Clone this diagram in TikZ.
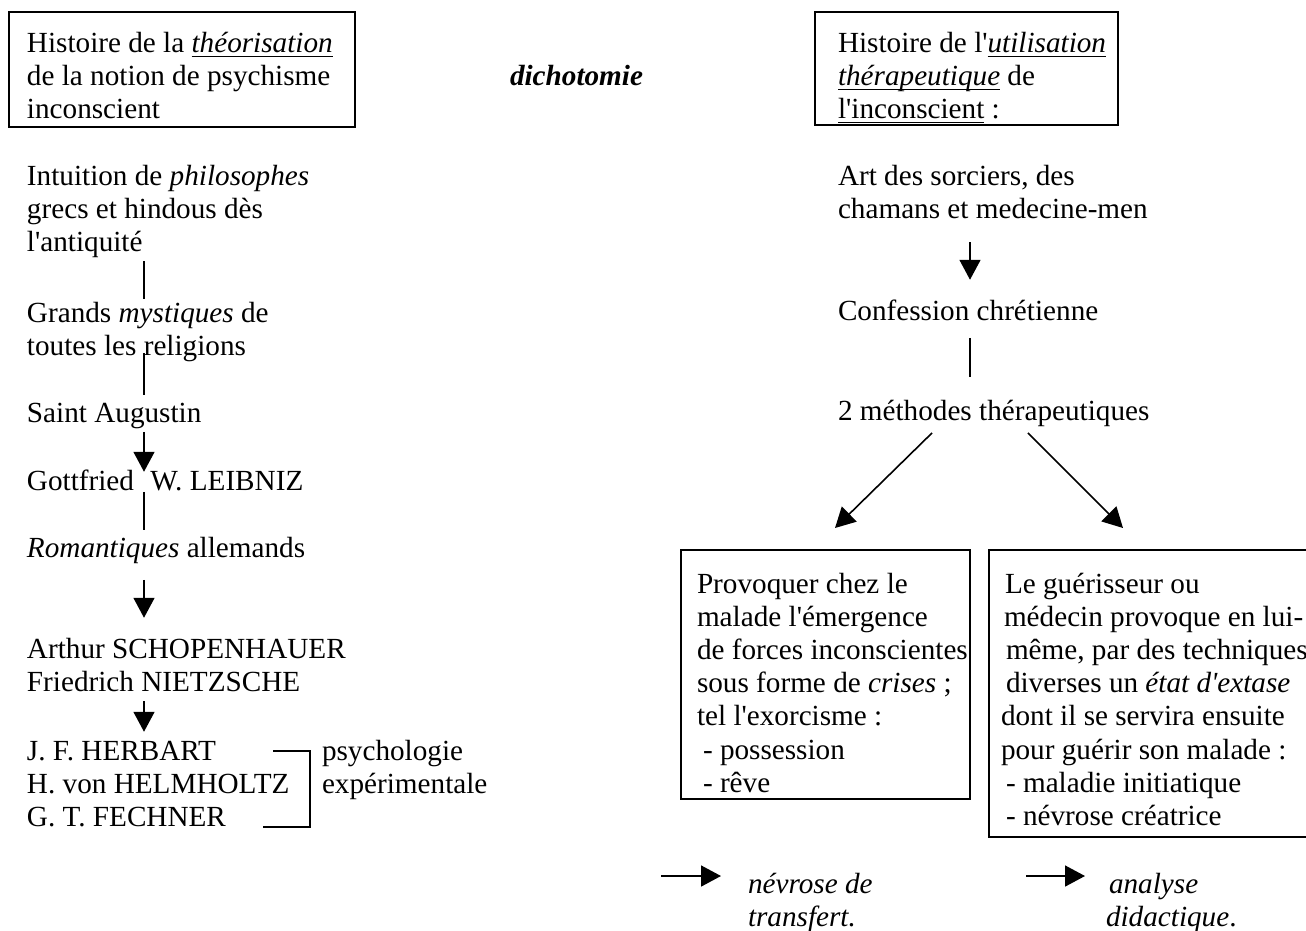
\documentclass[tikz,border=0pt]{standalone}
\usepackage{fontspec}
\setmainfont{Liberation Serif}[Ligatures=TeXOff]
\usetikzlibrary{arrows.meta,calc}
% underlined words: a rule set under the text box
\newsavebox{\ulbox}
\newcommand{\ul}[1]{\sbox{\ulbox}{#1}\leavevmode\rlap{\rule[-5pt]{\wd\ulbox}{1.5pt}}\usebox{\ulbox}}
% lines of a block; the first line's baseline is the node's base
\newcommand{\rows}[1]{\begin{tabular}[t]{@{}l@{}}#1\end{tabular}}
\tikzset{
  lbl/.style={inner sep=0pt, outer sep=0pt, anchor=base west},
  frame/.style={draw, line width=1.6pt, inner sep=0pt, outer sep=0pt, anchor=north west},
  link/.style={line width=1.6pt},
  arr/.style={link, -{Triangle[length=20pt,width=21pt]}},
}
\begin{document}
\begin{tikzpicture}[x=1pt, y=-1pt, font=\fontsize{29.2}{33.2}\selectfont]
\useasboundingbox (0,0) rectangle (1306,930);
\clip (0,0) rectangle (1306,930);

% headings
\node[frame, minimum width=346pt, minimum height=115pt] (theoBox) at (9,12) {};
\node[lbl] (theo) at (27,52) {\rows{Histoire de la \ul{\textit{théorisation}}\\de la notion de psychisme\\inconscient}};
\node[lbl] (dicho) at (510,85) {\textbf{\textit{dichotomie}}};
\node[frame, minimum width=303pt, minimum height=113pt] (utilBox) at (815,12) {};
\node[lbl] (util) at (838,52) {\rows{Histoire de l'\ul{\textit{utilisation}}\\\ul{\textit{thérapeutique}} de\\\ul{l'inconscient} :}};

% left column: theory
\coordinate (cx) at (144,0);
\node[lbl] (intu) at (27,185) {\rows{Intuition de \textit{philosophes}\\grecs et hindous dès\\l'antiquité}};
\node[lbl] (grands) at (27,322) {\rows{Grands \textit{mystiques} de\\toutes les religions}};
\node[lbl] (saint) at (27,422) {\rows{Saint Augustin}};
\node[lbl] (gott) at (27,490) {\rows{Gottfried\hspace{9pt} W. LEIBNIZ}};
\node[lbl] (rom) at (27,557) {\rows{\textit{Romantiques} allemands}};
\node[lbl] (arth) at (27,658) {\rows{Arthur SCHOPENHAUER\\Friedrich NIETZSCHE}};
\node[lbl] (herb) at (27,760) {\rows{J. F. HERBART\\H. von HELMHOLTZ\\G. T. FECHNER}};
\node[lbl] (psy) at (322,760) {\rows{psychologie\\expérimentale}};

\draw[link] (cx |- intu.south) -- (cx |- grands.north);
\draw[link, shorten <=-12pt, shorten >=4pt] (cx |- grands.south) -- (cx |- saint.north);
\draw[arr, shorten >=-5pt] (cx |- saint.south) -- (cx |- gott.north);
\draw[link, shorten <=-8pt, shorten >=4pt] (cx |- gott.south) -- (cx |- rom.north);
\draw[arr, shorten <=13pt, shorten >=17pt] (cx |- rom.south) -- (cx |- arth.north);
\draw[arr, shorten >=5pt] (cx |- arth.south) -- (cx |- herb.north);
\draw[link] (273,751) -- (310,751) -- (310,827) -- (263,827);

% right column: therapy
\coordinate (rx) at (970,0);
\node[lbl] (art) at (838,185) {\rows{Art des sorciers, des\\chamans et medecine-men}};
\node[lbl] (conf) at (838,320) {\rows{Confession chrétienne}};
\node[lbl] (meth) at (838,420) {\rows{2 méthodes thérapeutiques}};

\draw[arr, shorten <=14pt, shorten >=17pt] (rx |- art.south) -- (rx |- conf.north);
\draw[link, shorten <=8pt, shorten >=20pt] (rx |- conf.south) -- (rx |- meth.north);

\node[frame, minimum width=289pt, minimum height=249pt] (provBox) at (681,550) {};
\node[lbl] (prov) at (697,593) {\rows{Provoquer chez le\\malade l'émergence\\de forces inconscientes\\sous forme de \textit{crises} ;\\tel l'exorcisme :\\\hspace{6pt}- possession\\\hspace{6pt}- rêve}};
\node[frame, minimum width=345pt, minimum height=287pt] (guerBox) at (989,550) {};
\node[lbl] (guer) at (1001,593) {\rows{\hspace{4pt}Le guérisseur ou\\\hspace{3pt}médecin provoque en lui-\\\hspace{5pt}même, par des techniques\\\hspace{5pt}diverses un \textit{état d'extase}\\dont il se servira ensuite\\pour guérir son malade :\\\hspace{5pt}- maladie initiatique\\\hspace{5pt}- névrose créatrice}};

\draw[arr] ($(meth.south west)+(94,3)$) -- ($(provBox.north west)+(154,-22)$);
\draw[arr] ($(meth.south west)+(190,3)$) -- ($(guerBox.north west)+(134,-22)$);

% outcomes
\coordinate (n0) at (661,876);
\node[lbl] (nev) at (748,893) {\rows{\textit{névrose de}\\\textit{transfert.}}};
\draw[arr, shorten >=27pt] (n0) -- (n0 -| nev.west);
\coordinate (d0) at (1026,876);
\node[lbl] (did) at (1106,893) {\rows{\hspace{3pt}\textit{analyse}\\\textit{didactique}.}};
\draw[arr, shorten >=21pt] (d0) -- (d0 -| did.west);
\end{tikzpicture}
\end{document}
